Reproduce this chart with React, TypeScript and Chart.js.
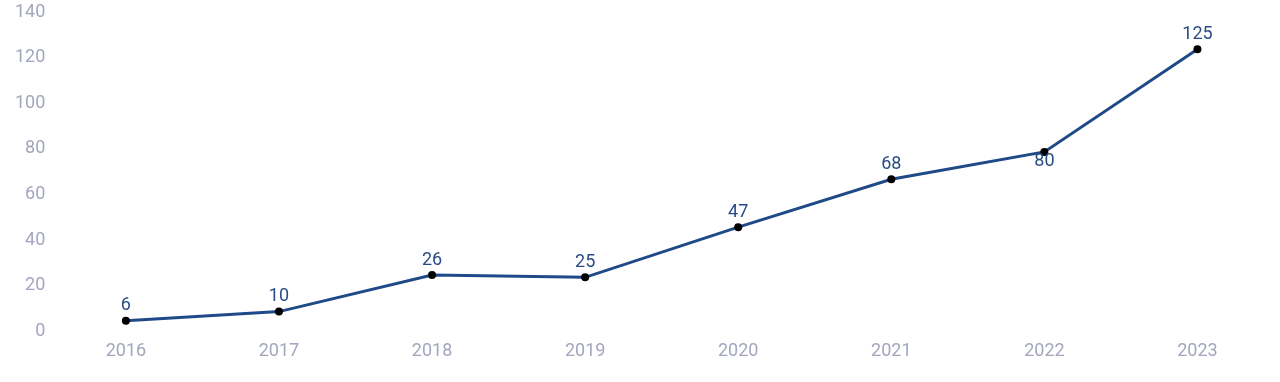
import React, { useEffect, useRef } from "react";
import { Chart, registerables } from "chart.js";

Chart.register(...registerables);

const years = ["2016", "2017", "2018", "2019", "2020", "2021", "2022", "2023"];
const values = [6, 10, 26, 25, 47, 68, 80, 125];
const labelBelow = [false, false, false, false, false, false, true, false];
const yTicks = [0, 20, 40, 60, 80, 100, 120, 140];

const FONT = "Roboto, 'Noto Sans', sans-serif";

const valueLabels = {
  id: "valueLabels",
  afterDatasetsDraw(chart: any) {
    const ctx = chart.ctx;
    const meta = chart.getDatasetMeta(0);
    ctx.save();
    ctx.font = `18px ${FONT}`;
    ctx.fillStyle = "#2a4c86";
    ctx.textAlign = "center";
    meta.data.forEach((pt: any, i: number) => {
      if (labelBelow[i]) {
        ctx.textBaseline = "top";
        ctx.fillText(String(values[i]), pt.x, pt.y + 1);
      } else {
        ctx.textBaseline = "bottom";
        ctx.fillText(String(values[i]), pt.x, pt.y - 6);
      }
    });
    ctx.restore();
  },
};

export default function App() {
  const ref = useRef<HTMLCanvasElement | null>(null);
  useEffect(() => {
    if (!ref.current) return;
    const chart = new Chart(ref.current, {
      type: "line",
      data: {
        labels: years,
        datasets: [
          {
            data: values,
            borderColor: "#1f4a87",
            borderWidth: 3,
            pointRadius: 4,
            pointBorderWidth: 0,
            pointBackgroundColor: "#000000",
            tension: 0,
          },
        ],
      },
      options: {
        animation: false,
        responsive: false,
        maintainAspectRatio: false,
        layout: { padding: { top: 15, right: 6, left: 11, bottom: 22 } },
        plugins: { legend: { display: false }, tooltip: { enabled: false } },
        scales: {
          x: {
            offset: true,
            grid: { display: false },
            border: { display: false },
            ticks: { color: "#a3a6bf", font: { family: FONT, size: 18 }, padding: -2 },
          },
          y: {
            min: 0,
            max: 140,
            afterBuildTicks: (axis: any) => {
              axis.ticks = yTicks.map((v) => ({ value: v }));
            },
            grid: { display: false, drawTicks: false },
            border: { display: false },
            ticks: {
              color: "#a3a6bf",
              font: { family: FONT, size: 18 },
              padding: 4,
              labelOffset: -3,
            },
          },
        },
      },
      plugins: [valueLabels],
    });
    return () => chart.destroy();
  }, []);
  return (
    <div style={{ position: "absolute", left: 0, top: 0, width: 1280, height: 382 }}>
      <canvas ref={ref} width={1280} height={382} />
    </div>
  );
}
